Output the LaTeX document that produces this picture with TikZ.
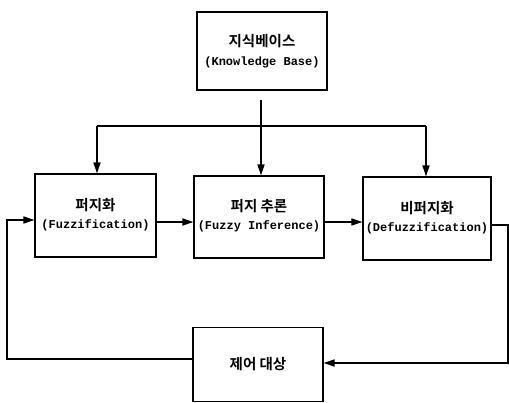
\documentclass[tikz,border=0pt]{standalone}
\usepackage{fontspec}
\usetikzlibrary{arrows.meta}
\newfontfamily\krfont[BoldFont={Noto Sans CJK KR Bold}]{Noto Sans CJK KR}
\newfontfamily\enfont{Liberation Mono}
\newcommand{\kr}[1]{{\krfont\bfseries\fontsize{14.5}{16}\selectfont #1}}
\newcommand{\en}[1]{{\enfont\bfseries\fontsize{12}{14}\selectfont #1}}
\begin{document}
\begin{tikzpicture}[x=1pt,y=-1pt,
  blk/.style={draw, line width=1.1pt, rectangle, align=center, inner sep=0pt},
  txt/.style={align=center, inner sep=0pt, yshift=1pt},
  conn/.style={line width=1.5pt},
  arr/.style={conn, -{Triangle[length=11pt,width=7pt]}}]
\useasboundingbox (0,0) rectangle (509,403);
\node[blk, minimum width=130pt, minimum height=78pt] (kb) at (262,51)
  {\kr{지식베이스}\\[7pt]\en{(Knowledge Base)}};
\node[blk, minimum width=121pt, minimum height=83pt,
  label={[txt]center:{\kr{퍼지화}\\[6pt]\en{(Fuzzification)}}}] (fz) at (95.5,215.5) {};
\node[blk, minimum width=130pt, minimum height=82pt,
  label={[txt]center:{\kr{퍼지 추론}\\[6pt]\en{(Fuzzy Inference)}}}] (fi) at (259,217) {};
\node[blk, minimum width=128pt, minimum height=83pt,
  label={[txt]center:{\kr{비퍼지화}\\[6pt]\en{(Defuzzification)}}}] (df) at (427,218.5) {};
\node[blk, minimum width=130pt, minimum height=74pt] (pl) at (258,364.5)
  {\kr{제어 대상}};
% knowledge base distribution
\coordinate (kbs) at (261,100);
\coordinate (hl) at (97,126);
\coordinate (hr) at (426,126);
\draw[arr] (kbs) -- (fi.north -| kbs);
\draw[conn] (hl) -- (hr);
\draw[arr] (hl) -- (hl |- fz.north);
\draw[arr] (hr) -- (hr |- df.north);
% forward chain
\draw[arr] (fz.east |- 0,222) -- (fi.west |- 0,222);
\draw[arr] (fi.east |- 0,222) -- (df.west |- 0,222);
% output loop
\coordinate (or) at (508,225);
\coordinate (br) at (508,363);
\draw[arr] (df.east |- or) -- (or) -- (br) -- (pl.east |- br);
% feedback
\coordinate (bl) at (7,359);
\coordinate (tl) at (7,220);
\draw[arr] (pl.west |- bl) -- (bl) -- (tl) -- (fz.west |- tl);
\end{tikzpicture}
\end{document}
